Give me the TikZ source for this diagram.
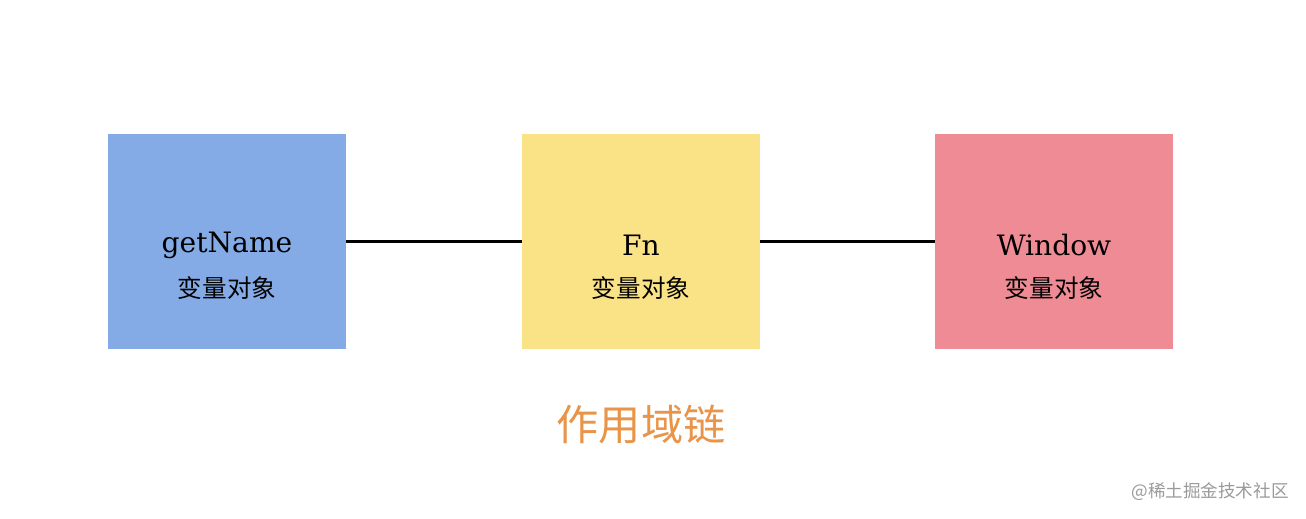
\documentclass[tikz,border=0pt]{standalone}
\usepackage{fontspec}
\setmainfont{DejaVu Serif}
\newfontfamily\cjk{Noto Sans CJK SC}
\usetikzlibrary{positioning,calc}
\definecolor{boxblue}{HTML}{84ABE6}
\definecolor{boxyellow}{HTML}{FAE386}
\definecolor{boxred}{HTML}{EF8B95}
\definecolor{chainorange}{HTML}{E8954A}
\definecolor{markgray}{HTML}{9A9A9A}

\begin{document}
\begin{tikzpicture}[
		scopebox/.style={minimum width=4.76cm, minimum height=4.3cm, inner sep=0pt},
		scopename/.style={font=\fontsize{16}{19}\selectfont},
		varobj/.style={font=\cjk\fontsize{14}{17}\selectfont},
		link/.style={line width=1.3pt}
	]
		\useasboundingbox (0,0) rectangle (26.12,-10.36);
		
		% 3 scope boxes
		\node[scopebox, fill=boxblue] (getname) at (4.54,-4.83) {};
		\node[scopebox, fill=boxyellow] (fn) at (12.82,-4.83) {};
		\node[scopebox, fill=boxred] (window) at (21.08,-4.83) {};
		
		% names and variable objects
		\node[scopename] (getname-t) at ($(getname)+(0,-0.08)$) {getName};
		\node[varobj] (getname-v) at ($(getname)+(0,-0.93)$) {变量对象};
		
		\node[scopename] (fn-t) at ($(fn)+(0,-0.08)$) {Fn};
		\node[varobj] (fn-v) at ($(fn)+(0,-0.93)$) {变量对象};
		
		\node[scopename] (window-t) at ($(window)+(0,-0.08)$) {Window};
		\node[varobj] (window-v) at ($(window)+(0,-0.93)$) {变量对象};
		
		% chain links
		\draw[link] (getname.east) -- (fn.west);
		\draw[link] (fn.east) -- (window.west);
		
		% caption and watermark
		\node[chainorange, font=\cjk\fontsize{24}{28}\selectfont] (caption) at (12.82,-8.5) {作用域链};
		\node[markgray, font=\cjk\fontsize{10}{12}\selectfont] (mark) at (24.2,-9.84) {@稀土掘金技术社区};
	\end{tikzpicture}
\end{document}
